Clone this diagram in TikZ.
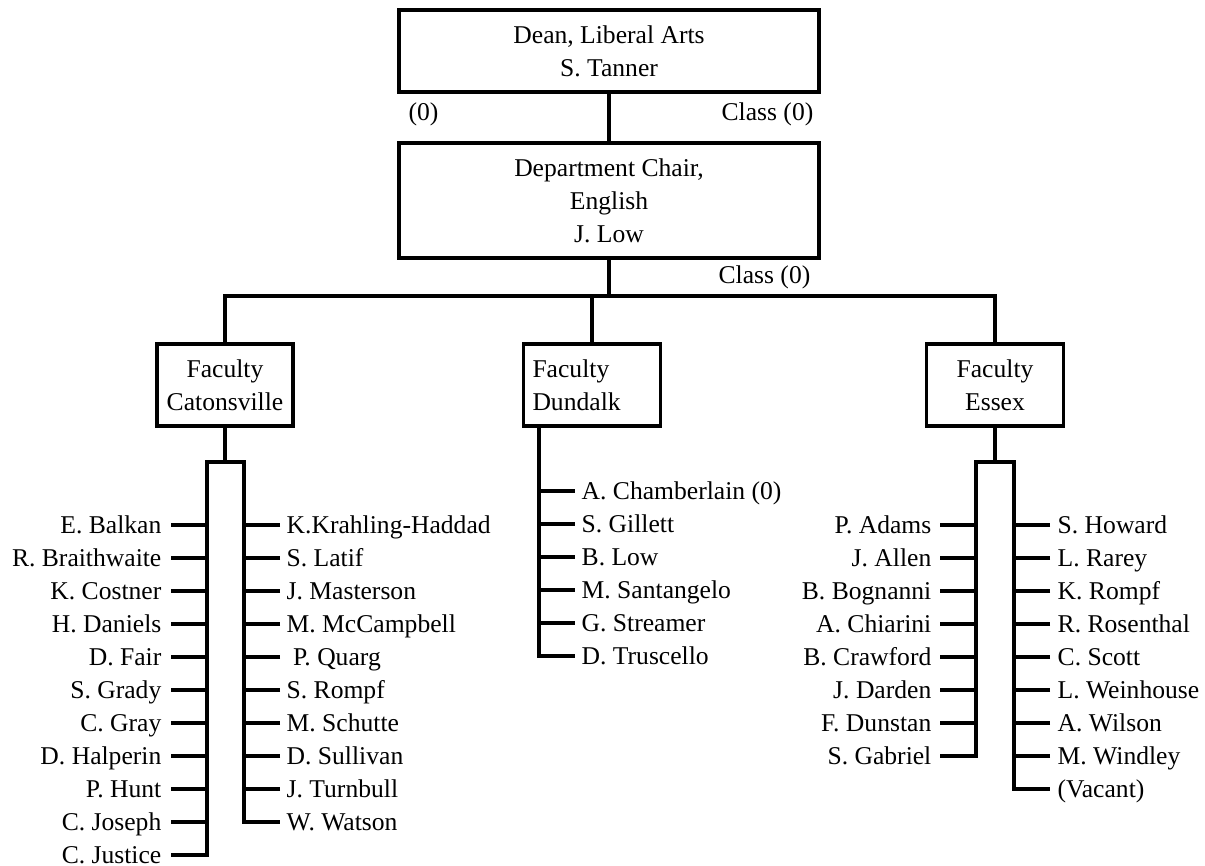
\documentclass[tikz,border=0pt]{standalone}
\usepackage{fontspec}
\setmainfont{Liberation Serif}
\begin{document}
\begin{tikzpicture}[x=0.75pt,y=-0.75pt,line width=2.5pt,
  txt/.style={font=\fontsize{19.2}{24.75}\selectfont},
  box/.style={txt,draw,line width=2.5pt,inner sep=0pt,align=center},
  fbox/.style={box,minimum width=102.75pt,minimum height=61.5pt},
  nm/.style={txt,inner sep=0pt,text height=12.7pt,text depth=0pt}]
\useasboundingbox (0,0) rectangle (1205,865);
\fill[white] (0,0) rectangle (1205,865);
% top boxes
\node[box,minimum width=315pt,minimum height=61.5pt] (dean) at (609,51) {Dean, Liberal Arts\\S. Tanner};
\node[box,minimum width=315pt,minimum height=86.25pt] (dept) at (609,200.5) {Department Chair,\\English\\J. Low};
\node[nm,anchor=west] (z0) at (407,112) {(0)};
\node[nm,anchor=east] (c1) at (815,112) {Class (0)};
\node[nm,anchor=east] (c2) at (812,275) {Class (0)};
% faculty boxes
\node[fbox,minimum width=102pt] (cat) at (225,385) {Faculty\\Catonsville};
\node[fbox,align=left,text width=89.25pt,inner xsep=6.75pt,minimum width=0pt] (dun) at (592,385) {Faculty\\Dundalk};
\node[fbox] (ess) at (995,385) {Faculty\\Essex};
% connectors top
\draw (dean.south) -- (dept.north);
\coordinate (bar) at (609,296);
\draw (dept.south) -- (bar);
\draw (cat.north) |- (bar) -| (ess.north);
\draw (dun.north) -- (dun.north |- bar);
% Catonsville names
\foreach \n [count=\i] in {E. Balkan,R. Braithwaite,K. Costner,H. Daniels,D. Fair,S. Grady,C. Gray,D. Halperin,P. Hunt,C. Joseph,C. Justice}
  \node[nm,anchor=east] (a\i) at (163,{525+33*(\i-1)}) {\n};
\foreach \n [count=\i] in {K.Krahling-Haddad,S. Latif,J. Masterson,M. McCampbell,{\ P. Quarg},S. Rompf,M. Schutte,D. Sullivan,J. Turnbull,W. Watson}
  \node[nm,anchor=west] (b\i) at (285,{525+33*(\i-1)}) {\n};
\coordinate (ct) at (225,462);
\draw (cat.south) -- (ct);
\draw ([xshift=6pt]a11.east) -| (207,462) -- (244,462) |- ([xshift=-3.75pt]b10.west);
\foreach \i in {1,...,10}
  \draw ([xshift=6pt]a\i.east) -- ++(36,0);
\foreach \i in {1,...,9}
  \draw ([xshift=-3.75pt]b\i.west) -- ++(-36,0);
% Dundalk names
\foreach \n [count=\i] in {{A. Chamberlain (0)},S. Gillett,B. Low,M. Santangelo,G. Streamer,D. Truscello}
  \node[nm,anchor=west] (d\i) at (580,{491+33*(\i-1)}) {\n};
\coordinate (dv) at ([xshift=12.75pt]dun.south west);
\draw (dv) |- ([xshift=-3.75pt]d6.west);
\foreach \i in {1,...,5}
  \draw (d\i.west -| dv) -- ([xshift=-3.75pt]d\i.west);
% Essex names
\foreach \n [count=\i] in {P. Adams,J. Allen,B. Bognanni,A. Chiarini,B. Crawford,J. Darden,F. Dunstan,S. Gabriel}
  \node[nm,anchor=east] (e\i) at (933,{525+33*(\i-1)}) {\n};
\foreach \n [count=\i] in {S. Howard,L. Rarey,K. Rompf,R. Rosenthal,C. Scott,L. Weinhouse,A. Wilson,M. Windley,(Vacant)}
  \node[nm,anchor=west] (f\i) at (1056,{525+33*(\i-1)}) {\n};
\coordinate (et) at (995,462);
\draw (ess.south) -- (et);
\draw ([xshift=5.25pt]e8.east) -| (976,462) -- (1014,462) |- ([xshift=-4.5pt]f9.west);
\foreach \i in {1,...,7}
  \draw ([xshift=5.25pt]e\i.east) -- ++(36,0);
\foreach \i in {1,...,8}
  \draw ([xshift=-4.5pt]f\i.west) -- ++(-36,0);
\end{tikzpicture}
\end{document}
